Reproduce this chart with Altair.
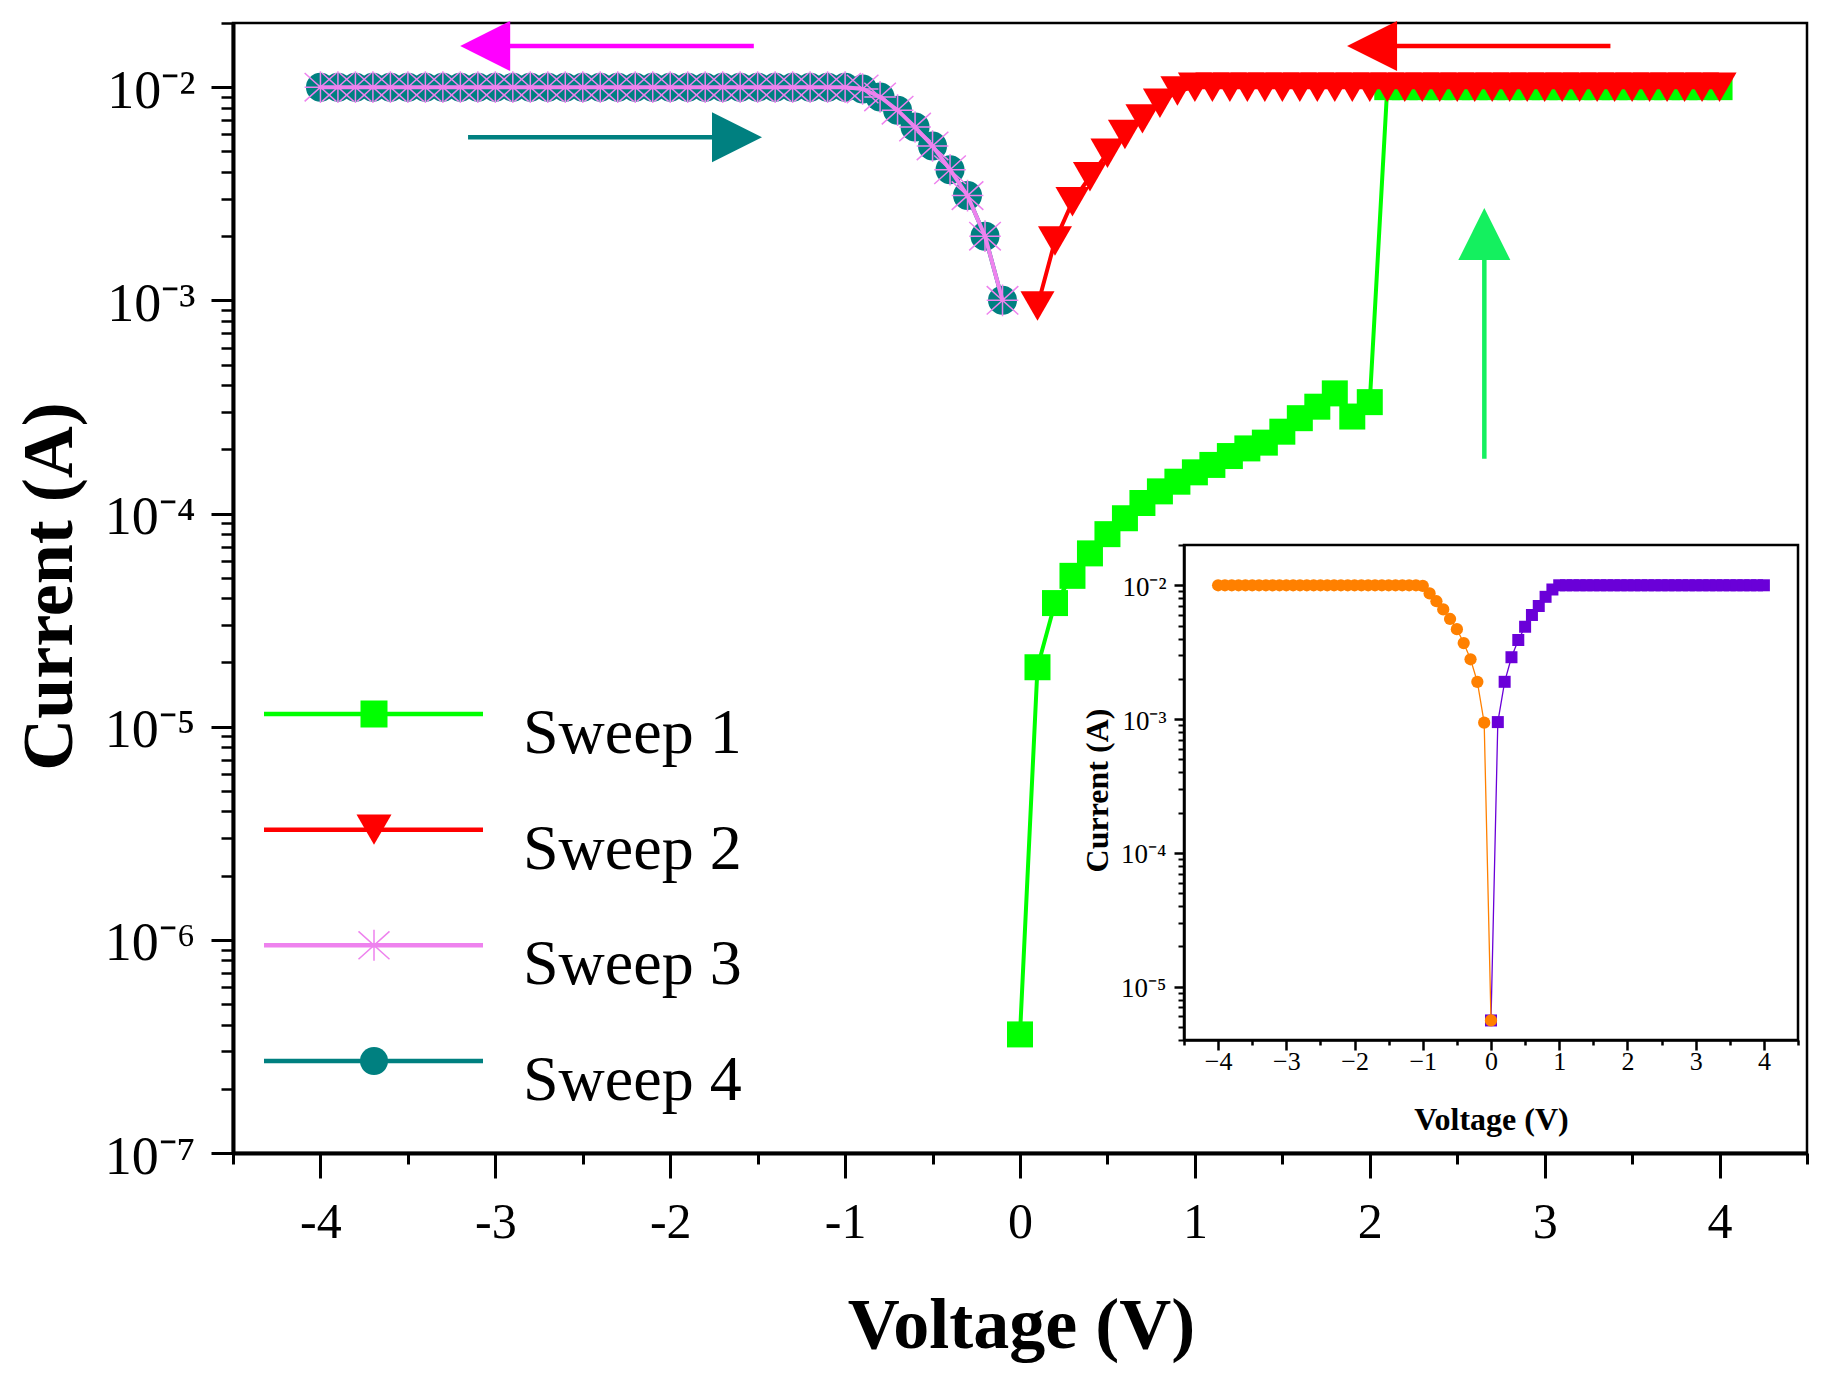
import altair as alt
import pandas as pd

FONT = "Liberation Serif"

# ---------------- data ----------------
sweep1_v = [0.0, 0.1, 0.2, 0.3, 0.4, 0.5, 0.6, 0.7, 0.8, 0.9, 1.0,
            1.1, 1.2, 1.3, 1.4, 1.5, 1.6, 1.7, 1.8, 1.9, 2.0,
            2.1, 2.2, 2.3, 2.4, 2.5, 2.6, 2.7, 2.8, 2.9, 3.0,
            3.1, 3.2, 3.3, 3.4, 3.5, 3.6, 3.7, 3.8, 3.9, 4.0]
sweep1_i = [3.6e-7, 1.9e-5, 3.8e-5, 5.1e-5, 6.5e-5, 8.0e-5, 9.5e-5, 1.12e-4, 1.27e-4, 1.41e-4, 1.56e-4,
            1.69e-4, 1.86e-4, 2.02e-4, 2.15e-4, 2.42e-4, 2.8e-4, 3.17e-4, 3.66e-4, 2.85e-4, 3.33e-4,
            0.01, 0.01, 0.01, 0.01, 0.01, 0.01, 0.01, 0.01, 0.01, 0.01,
            0.01, 0.01, 0.01, 0.01, 0.01, 0.01, 0.01, 0.01, 0.01, 0.01]

sweep2_v = [0.1, 0.2, 0.3, 0.4, 0.5, 0.6, 0.7, 0.8, 0.9, 1.0,
            1.1, 1.2, 1.3, 1.4, 1.5, 1.6, 1.7, 1.8, 1.9, 2.0,
            2.1, 2.2, 2.3, 2.4, 2.5, 2.6, 2.7, 2.8, 2.9, 3.0,
            3.1, 3.2, 3.3, 3.4, 3.5, 3.6, 3.7, 3.8, 3.9, 4.0]
sweep2_i = [0.00094, 0.0019, 0.0029, 0.0038, 0.0049, 0.006, 0.0071, 0.0084, 0.0096, 0.01,
            0.01, 0.01, 0.01, 0.01, 0.01, 0.01, 0.01, 0.01, 0.01, 0.01,
            0.01, 0.01, 0.01, 0.01, 0.01, 0.01, 0.01, 0.01, 0.01, 0.01,
            0.01, 0.01, 0.01, 0.01, 0.01, 0.01, 0.01, 0.01, 0.01, 0.01]

sweep34_v = [-4.0, -3.9, -3.8, -3.7, -3.6, -3.5, -3.4, -3.3, -3.2, -3.1,
             -3.0, -2.9, -2.8, -2.7, -2.6, -2.5, -2.4, -2.3, -2.2, -2.1,
             -2.0, -1.9, -1.8, -1.7, -1.6, -1.5, -1.4, -1.3, -1.2, -1.1,
             -1.0, -0.9, -0.8, -0.7, -0.6, -0.5, -0.4, -0.3, -0.2, -0.1]
sweep3_i = [0.01, 0.01, 0.01, 0.01, 0.01, 0.01, 0.01, 0.01, 0.01, 0.01,
            0.01, 0.01, 0.01, 0.01, 0.01, 0.01, 0.01, 0.01, 0.01, 0.01,
            0.01, 0.01, 0.01, 0.01, 0.01, 0.01, 0.01, 0.01, 0.01, 0.01,
            0.01, 0.0098, 0.009, 0.0078, 0.0065, 0.0053, 0.0041, 0.0031, 0.002, 0.001]
sweep4_i = [0.01, 0.01, 0.01, 0.01, 0.01, 0.01, 0.01, 0.01, 0.01, 0.01,
            0.01, 0.01, 0.01, 0.01, 0.01, 0.01, 0.01, 0.01, 0.01, 0.01,
            0.01, 0.01, 0.01, 0.01, 0.01, 0.01, 0.01, 0.01, 0.01, 0.01,
            0.01, 0.0098, 0.009, 0.0078, 0.0065, 0.0053, 0.0041, 0.0031, 0.002, 0.001]

inset_neg_v = [-4.0, -3.9, -3.8, -3.7, -3.6, -3.5, -3.4, -3.3, -3.2, -3.1,
               -3.0, -2.9, -2.8, -2.7, -2.6, -2.5, -2.4, -2.3, -2.2, -2.1,
               -2.0, -1.9, -1.8, -1.7, -1.6, -1.5, -1.4, -1.3, -1.2, -1.1,
               -1.0, -0.9, -0.8, -0.7, -0.6, -0.5, -0.4, -0.3, -0.2, -0.1, 0.0]
inset_neg_i = [0.01, 0.01, 0.01, 0.01, 0.01, 0.01, 0.01, 0.01, 0.01, 0.01,
               0.01, 0.01, 0.01, 0.01, 0.01, 0.01, 0.01, 0.01, 0.01, 0.01,
               0.01, 0.01, 0.01, 0.01, 0.01, 0.01, 0.01, 0.01, 0.01, 0.01,
               0.0099, 0.0087, 0.0076, 0.0066, 0.0056, 0.0047, 0.0037, 0.0028, 0.0019, 0.00094, 5.6e-6]
inset_pos_v = [0.0, 0.1, 0.2, 0.3, 0.4, 0.5, 0.6, 0.7, 0.8, 0.9, 1.0,
               1.1, 1.2, 1.3, 1.4, 1.5, 1.6, 1.7, 1.8, 1.9, 2.0,
               2.1, 2.2, 2.3, 2.4, 2.5, 2.6, 2.7, 2.8, 2.9, 3.0,
               3.1, 3.2, 3.3, 3.4, 3.5, 3.6, 3.7, 3.8, 3.9, 4.0]
inset_pos_i = [5.6e-6, 0.00095, 0.0019, 0.0029, 0.0039, 0.0049, 0.006, 0.007, 0.0082, 0.0093, 0.01,
               0.01, 0.01, 0.01, 0.01, 0.01, 0.01, 0.01, 0.01, 0.01, 0.01,
               0.01, 0.01, 0.01, 0.01, 0.01, 0.01, 0.01, 0.01, 0.01, 0.01,
               0.01, 0.01, 0.01, 0.01, 0.01, 0.01, 0.01, 0.01, 0.01, 0.01]

legend_labels = ["Sweep 1", "Sweep 2", "Sweep 3", "Sweep 4"]
legend_colors = ["#00FF00", "#FF0000", "#EE82EE", "#008080"]

# annotation arrows (data coordinates)
harrow_color = ["#FF00FF", "#008080", "#FF0000"]
harrow_y = [0.0156, 0.00582, 0.0156]
harrow_tail = [-1.522, -3.156, 3.376]
harrow_base = [-2.921, -1.760, 2.153]
harrow_head = [-3.058, -1.618, 2.013]
harrow_dir = ["left", "right", "left"]
varrow_color = "#14F05F"
varrow_x = 2.655
varrow_tail = 1.807e-4
varrow_base = 1.545e-3
varrow_head = 2.046e-3

# ticks
x_major = [-4, -3, -2, -1, 0, 1, 2, 3, 4]
x_minor = [-4.5, -3.5, -2.5, -1.5, -0.5, 0.5, 1.5, 2.5, 3.5, 4.5]
y_major = [1e-7, 1e-6, 1e-5, 1e-4, 1e-3, 1e-2]
y_minor = [k * 10.0 ** e for e in range(-7, -1) for k in range(2, 10)] + [0.02]
y_labels = ["10⁻⁷", "10⁻⁶", "10⁻⁵", "10⁻⁴", "10⁻³", "10⁻²"]
yin_major = [1e-5, 1e-4, 1e-3, 1e-2]
yin_minor = [k * 1e-6 for k in range(4, 10)] + [k * 10.0 ** e for e in range(-5, -1) for k in range(2, 10)] + [0.02]

GREEN, RED, VIOLET, TEAL = legend_colors
ORANGE, PURPLE = "#FF8000", "#6A00D8"

SHAPE_LEFT = "M-1,0L1,-1L1,1Z"
SHAPE_RIGHT = "M1,0L-1,-1L-1,1Z"
SHAPE_UP = "M0,-1L1,1L-1,1Z"
ASTERISK = "M0,-1L0,1M-1,-0.9L1,0.9M-1,0.9L1,-0.9M-1,0L1,0"

W, H = 1574, 1130

# ---------------- scales ----------------
x_main = alt.Scale(domain=[-4.5, 4.5], nice=False, zero=False)
y_main = alt.Scale(type="log", domain=[1e-7, 0.02], nice=False)
x_in = alt.Scale(domain=[-4.5, 4.5], nice=False, zero=False, range=[951, 1565])
y_in = alt.Scale(type="log", domain=[4e-6, 0.02], nice=False, range=[1017, 522])
leg_scale = alt.Scale(type="point", domain=legend_labels, range=[691, 1038], padding=0)

# ---------------- axes ----------------
ax_x_major = alt.Axis(orient="bottom", values=x_major, tickSize=25, tickWidth=3, tickColor="black",
                      domainWidth=4, domainColor="black", labelExpr="'' + datum.value",
                      labelFont=FONT, labelFontSize=50, labelColor="black", labelBaseline="middle",
                      labelPadding=44, labelFlush=False, labelOverlap=False,
                      title="Voltage (V)", titleFont=FONT, titleFontSize=72, titleFontWeight="bold",
                      titleColor="black", titleX=788, titleY=172, titleAlign="center",
                      titleBaseline="middle", grid=False)
ax_x_minor = alt.Axis(orient="bottom", values=x_minor, tickSize=11, tickWidth=3, tickColor="black",
                      domain=False, labels=False, title=None, grid=False)
ylab_expr = "[" + ",".join("'%s'" % s for s in y_labels) + "][round(log(datum.value)/LN10)+7]"
ax_y_major = alt.Axis(orient="left", values=y_major, tickSize=22, tickWidth=3, tickColor="black",
                      domainWidth=4, domainColor="black", labelExpr=ylab_expr,
                      labelFont=FONT, labelFontSize=54, labelColor="black", labelBaseline="middle",
                      labelAlign="right", labelPadding=16, labelOffset=4, labelFlush=False,
                      labelOverlap=False,
                      title="Current (A)", titleFont=FONT, titleFontSize=72, titleFontWeight="bold",
                      titleColor="black", titleX=-184, titleY=563, titleAngle=270,
                      titleAlign="center", titleBaseline="middle", grid=False)
ax_y_minor = alt.Axis(orient="left", values=y_minor, tickSize=12, tickWidth=2.5, tickColor="black",
                      domain=False, labels=False, title=None, grid=False)

inx_expr = "replace('' + datum.value, '-', '\u2212')"
ax_xin_major = alt.Axis(orient="bottom", offset=1017 - H, values=x_major, tickSize=10, tickWidth=2.5,
                        tickColor="black", domainWidth=2.5, domainColor="black", labelExpr=inx_expr,
                        labelFont=FONT, labelFontSize=26, labelColor="black", labelBaseline="middle",
                        labelPadding=11, labelFlush=False, labelOverlap=False,
                        title="Voltage (V)", titleFont=FONT, titleFontSize=32, titleFontWeight="bold",
                        titleColor="black", titleX=1258, titleY=79, titleAlign="center",
                        titleBaseline="middle", grid=False)
ax_xin_minor = alt.Axis(orient="bottom", offset=1017 - H, values=x_minor, tickSize=5, tickWidth=2.5,
                        tickColor="black", domain=False, labels=False, title=None, grid=False)
yin_labels = ["10\u207b\u2075", "10\u207b\u2074", "10\u207b\u00b3", "10\u207b\u00b2"]
yin_expr = "[" + ",".join("'%s'" % s for s in yin_labels) + "][round(log(datum.value)/LN10)+5]"
ax_yin_major = alt.Axis(orient="left", offset=-951, values=yin_major, tickSize=10, tickWidth=2.5,
                        tickColor="black", domainWidth=2.5, domainColor="black", labelExpr=yin_expr,
                        labelFont=FONT, labelFontSize=27, labelColor="black", labelBaseline="middle",
                        labelAlign="right", labelPadding=8, labelOffset=2, labelFlush=False,
                        labelOverlap=False,
                        title="Current (A)", titleFont=FONT, titleFontSize=32, titleFontWeight="bold",
                        titleColor="black", titleX=-87, titleY=767, titleAngle=270,
                        titleAlign="center", titleBaseline="middle", grid=False)
ax_yin_minor = alt.Axis(orient="left", offset=-951, values=yin_minor, tickSize=6, tickWidth=2,
                        tickColor="black", domain=False, labels=False, title=None, grid=False)


def df(v, i):
    return pd.DataFrame({"v": v, "i": i})


def enc_main(xaxis=None, yaxis=None):
    return dict(x=alt.X("v:Q", scale=x_main, axis=xaxis), y=alt.Y("i:Q", scale=y_main, axis=yaxis))


def enc_in(xaxis=None, yaxis=None):
    return dict(x=alt.X("v:Q", scale=x_in, axis=xaxis), y=alt.Y("i:Q", scale=y_in, axis=yaxis))


d1, d2 = df(sweep1_v, sweep1_i), df(sweep2_v, sweep2_i)
d3, d4 = df(sweep34_v, sweep3_i), df(sweep34_v, sweep4_i)

main_layers = [
    alt.Chart(d1).mark_line(color=GREEN, strokeWidth=4).encode(**enc_main(ax_x_major, ax_y_major)),
    alt.Chart(d1).mark_point(shape="square", filled=True, size=676, color=GREEN, opacity=1)
        .encode(**enc_main(ax_x_minor, ax_y_minor)),
    alt.Chart(d2).mark_line(color=RED, strokeWidth=4).encode(**enc_main()),
    alt.Chart(d2).mark_point(shape="triangle-down", filled=True, size=1156, color=RED, opacity=1)
        .encode(**enc_main()),
    alt.Chart(d4).mark_line(color=TEAL, strokeWidth=4).encode(**enc_main()),
    alt.Chart(d4).mark_point(shape="circle", filled=True, size=841, color=TEAL, opacity=1)
        .encode(**enc_main()),
    alt.Chart(d3).mark_line(color=VIOLET, strokeWidth=4).encode(**enc_main()),
    alt.Chart(d3).mark_point(shape=ASTERISK, filled=False, size=1000, color=VIOLET, strokeWidth=1.5,
                             opacity=1).encode(**enc_main()),
]

# arrows
for k in range(len(harrow_color)):
    a = pd.DataFrame({"t": [harrow_tail[k]], "b": [harrow_base[k]], "h": [harrow_head[k]],
                      "y": [harrow_y[k]]})
    main_layers.append(
        alt.Chart(a).mark_rule(color=harrow_color[k], strokeWidth=4.5, strokeCap="butt").encode(
            x=alt.X("t:Q", scale=x_main, axis=None), x2="b:Q",
            y=alt.Y("y:Q", scale=y_main, axis=None)))
    main_layers.append(
        alt.Chart(a).mark_point(shape=SHAPE_LEFT if harrow_dir[k] == "left" else SHAPE_RIGHT,
                                filled=True, size=2500, color=harrow_color[k], opacity=1,
                                strokeWidth=0).encode(
            x=alt.X("h:Q", scale=x_main, axis=None), y=alt.Y("y:Q", scale=y_main, axis=None)))
va = pd.DataFrame({"x": [varrow_x], "t": [varrow_tail], "b": [varrow_base], "h": [varrow_head]})
main_layers.append(
    alt.Chart(va).mark_rule(color=varrow_color, strokeWidth=4.5, strokeCap="butt").encode(
        x=alt.X("x:Q", scale=x_main, axis=None), y=alt.Y("t:Q", scale=y_main, axis=None), y2="b:Q"))
main_layers.append(
    alt.Chart(va).mark_point(shape=SHAPE_UP, filled=True, size=2704, color=varrow_color, opacity=1,
                             strokeWidth=0).encode(
        x=alt.X("x:Q", scale=x_main, axis=None), y=alt.Y("h:Q", scale=y_main, axis=None)))

main = alt.layer(*main_layers).resolve_axis(x="independent", y="independent")

# ---------------- inset ----------------
dn, dp = df(inset_neg_v, inset_neg_i), df(inset_pos_v, inset_pos_i)
frame = pd.DataFrame({"x0": [x_in.domain[0]], "x1": [x_in.domain[1]],
                      "y0": [y_in.domain[0]], "y1": [y_in.domain[1]]})
inset_layers = [
    alt.Chart(frame).mark_rect(fillOpacity=0, stroke="black", strokeWidth=2.5).encode(
        x=alt.X("x0:Q", scale=x_in, axis=ax_xin_major), x2="x1:Q",
        y=alt.Y("y0:Q", scale=y_in, axis=ax_yin_major), y2="y1:Q"),
    alt.Chart(dp).mark_line(color=PURPLE, strokeWidth=1.3).encode(**enc_in(ax_xin_minor, ax_yin_minor)),
    alt.Chart(dp).mark_point(shape="square", filled=True, size=144, color=PURPLE, opacity=1)
        .encode(**enc_in()),
    alt.Chart(dn).mark_line(color=ORANGE, strokeWidth=1.3).encode(**enc_in()),
    alt.Chart(dn).mark_point(shape="circle", filled=True, size=150, color=ORANGE, opacity=1)
        .encode(**enc_in()),
]
inset = alt.layer(*inset_layers).resolve_axis(x="independent", y="independent")

# ---------------- legend ----------------
leg = pd.DataFrame({"label": legend_labels})
leg_y = alt.Y("label:N", scale=leg_scale, axis=None)
leg_color = alt.Color("label:N", scale=alt.Scale(domain=legend_labels, range=legend_colors), legend=None)
leg_shapes = ["square", "triangle-down", ASTERISK, "circle"]
leg_sizes = [729, 1225, 961, 784]
legend_layers = [
    alt.Chart(leg).mark_rule(strokeWidth=4.5).encode(x=alt.value(31), x2=alt.value(250), y=leg_y,
                                                    color=leg_color),
    alt.Chart(leg).mark_text(align="left", baseline="alphabetic", dy=39, font=FONT, fontSize=64,
                             color="black").encode(x=alt.value(290), y=leg_y, text="label:N"),
]
for k in range(4):
    lk = pd.DataFrame({"label": [legend_labels[k]]})
    filled = leg_shapes[k] != ASTERISK
    legend_layers.append(
        alt.Chart(lk).mark_point(shape=leg_shapes[k], filled=filled, size=leg_sizes[k],
                                 color=legend_colors[k], opacity=1,
                                 strokeWidth=(0 if filled else 1.5)).encode(
            x=alt.value(141), y=leg_y))
legend = alt.layer(*legend_layers)

chart = alt.layer(main, inset, legend).resolve_scale(
    x="independent", y="independent"
).properties(
    width=W, height=H,
    autosize=alt.AutoSizeParams(type="none"),
    padding={"left": 225, "top": 15, "right": 15, "bottom": 225},
).configure_view(stroke="black", strokeWidth=2.5).configure_axis(grid=False)

chart.save("out.html", embed_options={"renderer": "svg", "actions": False})
